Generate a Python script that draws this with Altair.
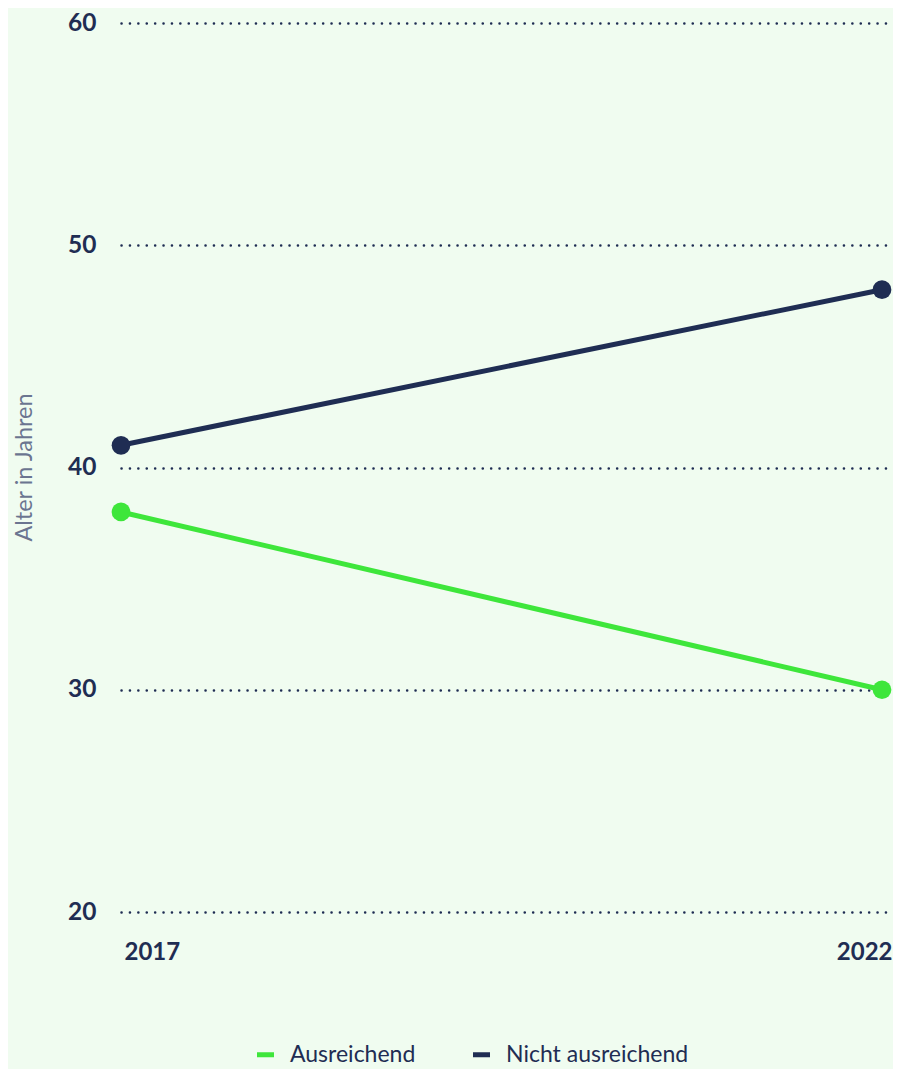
import altair as alt
import pandas as pd

years = [2017, 2022]
series_names = ["Ausreichend", "Nicht ausreichend"]
ausreichend = [38, 30]
nicht_ausreichend = [41, 48]
y_ticks = [20, 30, 40, 50, 60]

rows = []
for y, v in zip(years, ausreichend):
    rows.append({"year": y, "value": v, "series": series_names[0]})
for y, v in zip(years, nicht_ausreichend):
    rows.append({"year": y, "value": v, "series": series_names[1]})
df = pd.DataFrame(rows)

NAVY = "#1f2d53"
GREEN = "#3ee63b"
FONT = "Lato"

color = alt.Color(
    "series:N",
    scale=alt.Scale(domain=series_names, range=[GREEN, NAVY]),
    legend=alt.Legend(
        title=None,
        orient="none",
        direction="horizontal",
        legendX=133,
        legendY=1020,
        symbolType="stroke",
        symbolSize=289,
        symbolStrokeWidth=5,
        labelOffset=13,
        columnPadding=47,
        labelLimit=400,
        labelFont=FONT,
        labelFontSize=23,
        labelColor=NAVY,
        padding=0,
    ),
)

x = alt.X(
    "year:Q",
    scale=alt.Scale(domain=[2017, 2022.0723], nice=False, zero=False),
    axis=alt.Axis(
        values=years,
        format="d",
        title=None,
        grid=False,
        domain=False,
        ticks=False,
        labelFlush=15,
        labelFlushOffset=3.5,
        labelOffset=6.5,
        labelPadding=28,
        labelFont=FONT,
        labelFontWeight="bold",
        labelFontSize=24,
        labelColor=NAVY,
    ),
)

y = alt.Y(
    "value:Q",
    scale=alt.Scale(domain=[20, 60], nice=False, zero=False),
    axis=alt.Axis(
        values=y_ticks,
        title="Alter in Jahren",
        titleFont=FONT,
        titleFontWeight="normal",
        titleFontSize=23.5,
        titleColor="#6b7590",
        titleX=-85,
        titleY=444,
        titleAngle=-90,
        domain=False,
        ticks=False,
        labelPadding=25,
        labelFont=FONT,
        labelFontWeight="bold",
        labelFontSize=24.5,
        labelColor=NAVY,
        grid=True,
        gridColor=NAVY,
        gridWidth=2.5,
        gridDash=[0.1, 8.3],
        gridCap="round",
    ),
)

chart = (
    alt.Chart(df)
    .mark_line(strokeWidth=5, point=alt.OverlayMarkDef(size=350, filled=True, opacity=1))
    .encode(x=x, y=y, color=color, detail="series:N")
    .properties(
        width=772,
        height=889,
        background="#f0fcf0",
        autosize=alt.AutoSizeParams(type="none"),
        padding={"left": 113, "top": 15, "right": 0, "bottom": 157},
    )
    .configure_view(stroke=None)
)

chart.save("out.html", embed_options={"renderer": "svg", "actions": False})
